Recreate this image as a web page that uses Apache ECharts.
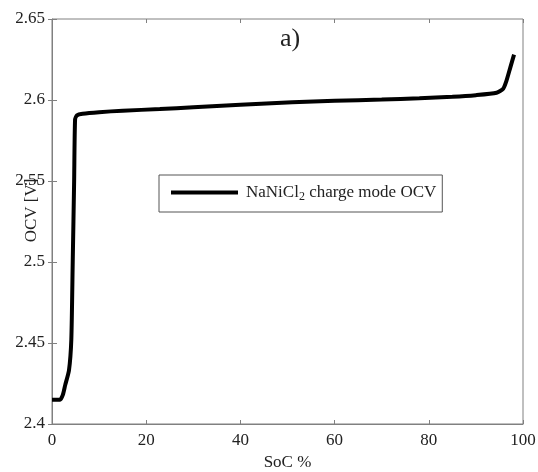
<!DOCTYPE html>
<html>
<head>
<meta charset="utf-8">
<script src="https://cdn.jsdelivr.net/npm/echarts@6/dist/echarts.min.js"></script>
<style>
  html, body { margin: 0; padding: 0; background: #fff; }
  #chart { width: 538px; height: 472px; }
</style>
</head>
<body>
<div id="chart"></div>
<script>
// State of charge (%) and open-circuit voltage (V) in charge mode
const soc = [0, 1.7, 2.3, 2.8, 3.6, 4.1, 4.4, 4.7, 4.9, 5.3, 6.5, 10, 15, 22.9, 30, 40, 51, 60, 70, 78, 85, 90, 94.4, 95.8, 96.5, 97.3, 98.1];
const ocv = [2.415, 2.415, 2.418, 2.424, 2.433, 2.452, 2.5, 2.55, 2.588, 2.5905, 2.5915, 2.5925, 2.5934, 2.5944, 2.5955, 2.597, 2.5986, 2.5995, 2.6003, 2.6011, 2.602, 2.603, 2.6045, 2.607, 2.612, 2.62, 2.628];
const xTicks = [0, 20, 40, 60, 80, 100];
const yTicks = [2.4, 2.45, 2.5, 2.55, 2.6, 2.65];
const seriesName = 'NaNiCl2 charge mode OCV';

const serif = '"Liberation Serif", "Times New Roman", serif';
const axisGray = '#808080';
const textColor = '#222';

const chart = echarts.init(document.getElementById('chart'));

const tickOnly = {
  axisLine: { show: false },
  axisTick: { show: true, inside: true, length: 4, lineStyle: { color: axisGray } },
  axisLabel: { show: false },
  splitLine: { show: false }
};

chart.setOption({
  animation: false,
  backgroundColor: '#fff',
  title: {
    text: 'a)',
    left: 280,
    top: 26,
    padding: 0,
    textStyle: { fontFamily: serif, fontSize: 26, fontWeight: 'normal', color: textColor }
  },
  grid: {
    left: 52, right: 15, top: 19, bottom: 48,
    outerBoundsMode: 'none',
    containLabel: false,
    show: true, borderColor: axisGray, borderWidth: 1, backgroundColor: '#fff'
  },
  legend: {
    left: 159,
    top: 175,
    orient: 'horizontal',
    backgroundColor: '#fff',
    borderColor: '#555',
    borderWidth: 1,
    borderRadius: 0,
    padding: [9, 6, 9, 12],
    itemWidth: 67,
    itemHeight: 10,
    data: [{ name: seriesName, icon: 'path://M0,0 L67,0 L67,4 L0,4 Z' }],
    formatter: () => '{t|NaNiCl}{s|2}{t| charge mode OCV}',
    textStyle: {
      padding: [0, 0, 0, 3],
      rich: {
        t: { fontFamily: serif, fontSize: 17, color: textColor },
        s: { fontFamily: serif, fontSize: 12, color: textColor, padding: [9, 0, 0, 0] }
      }
    }
  },
  xAxis: [
    {
      type: 'value', min: 0, max: 100, interval: 20,
      name: 'SoC %', nameLocation: 'middle', nameGap: 30,
      nameMoveOverlap: false,
      nameTextStyle: { fontFamily: serif, fontSize: 17, color: textColor },
      axisLine: { show: true, onZero: false, lineStyle: { color: axisGray } },
      axisTick: { show: true, inside: true, length: 4, lineStyle: { color: axisGray } },
      axisLabel: {
        fontFamily: serif, fontSize: 17, color: textColor, margin: 8,
        customValues: xTicks
      },
      splitLine: { show: false }
    },
    Object.assign({ type: 'value', position: 'top', min: 0, max: 100, interval: 20 }, tickOnly)
  ],
  yAxis: [
    {
      type: 'value', min: 2.4, max: 2.65, interval: 0.05,
      name: 'OCV [V]', nameLocation: 'middle', nameGap: 12,
      nameMoveOverlap: false,
      nameTextStyle: { fontFamily: serif, fontSize: 17, color: textColor, padding: [0, 0, 0, 22] },
      axisLine: { show: true, onZero: false, lineStyle: { color: axisGray } },
      axisTick: { show: true, inside: true, length: 5, lineStyle: { color: axisGray } },
      axisLabel: {
        fontFamily: serif, fontSize: 17, color: textColor, margin: 7,
        customValues: yTicks,
        formatter: v => String(Math.round(v * 100) / 100)
      },
      splitLine: { show: false }
    },
    Object.assign({ type: 'value', position: 'right', min: 2.4, max: 2.65, interval: 0.05 }, tickOnly)
  ],
  series: [{
    name: seriesName,
    type: 'line',
    showSymbol: false,
    symbol: 'none',
    smooth: 0.2,
    lineStyle: { color: '#000', width: 4 },
    itemStyle: { color: '#000' },
    data: soc.map((s, i) => [s, ocv[i]]),
    z: 5
  }]
});
</script>
</body>
</html>
